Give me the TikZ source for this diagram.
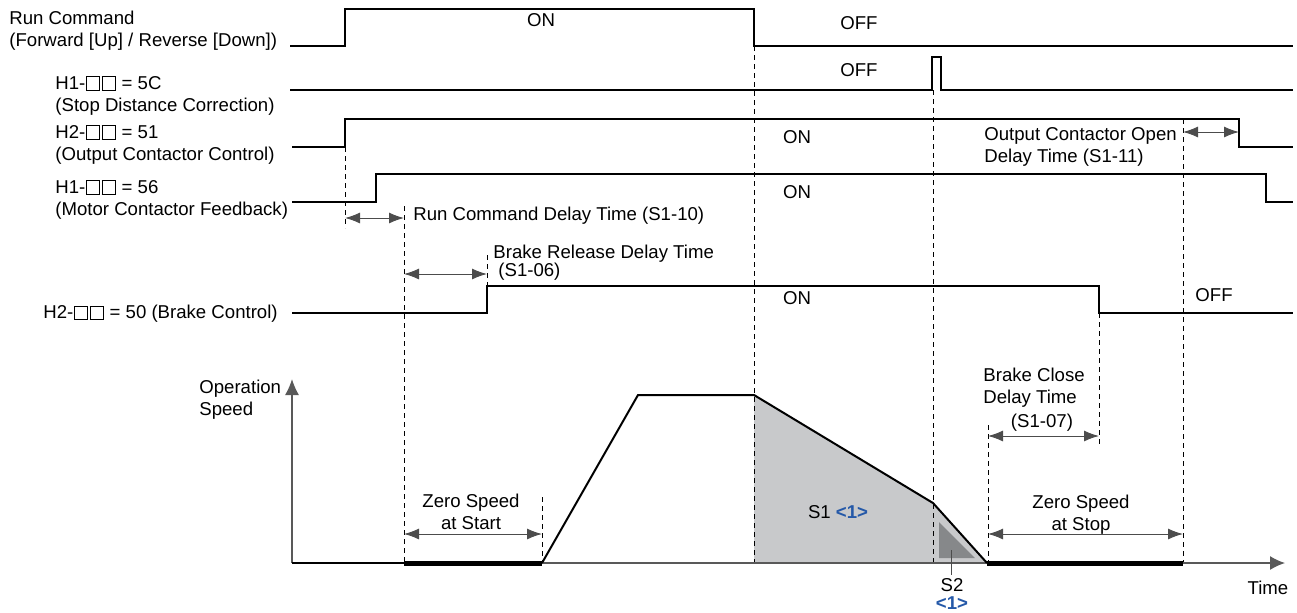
\documentclass[tikz,border=0pt]{standalone}
\usepackage{fontspec}
\setmainfont{Liberation Sans}
\usetikzlibrary{arrows.meta}
\definecolor{stopgray}{HTML}{C8C9CB}
\definecolor{slipgray}{HTML}{86888A}
\definecolor{noteblue}{HTML}{2458A8}
\newcommand{\blankbox}{{\setlength{\fboxsep}{0pt}\setlength{\fboxrule}{0.45pt}\kern0.04em\fbox{\rule{0pt}{0.66em}\rule{0.66em}{0pt}}\kern0.04em}}
\begin{document}
\begin{tikzpicture}[x=0.5pt,y=-0.5pt,
  sig/.style={line width=1pt},
  guide/.style={dash pattern=on 2.5pt off 2pt, line width=0.45pt},
  dim/.style={{Latex[length=7.5pt,width=5.5pt]}-{Latex[length=7.5pt,width=5.5pt]}, line width=0.5pt, draw=black!70, fill=black},
  txt/.style={inner sep=0pt, font=\fontsize{9.3}{11}\selectfont, align=left},
  note/.style={text=noteblue, font=\fontsize{9.3}{11}\selectfont\bfseries}]
  \useasboundingbox (0,0) rectangle (1297,612);

  % stop distance areas
  \fill[stopgray] (754,395) -- (933,503) -- (987,563) -- (754,563) -- cycle;
  \fill[slipgray] (939,522) -- (939,558) -- (975,558) -- cycle;

  % guide lines
  \draw[guide] (345,147) -- (345,228);
  \draw[guide] (404,206) -- (404,563);
  \draw[guide] (487,255) -- (487,286);
  \draw[guide] (542,497) -- (542,563);
  \draw[guide] (754,46) -- (754,563);
  \draw[guide] (933,90) -- (933,563);
  \draw[guide] (988,425) -- (988,563);
  \draw[guide] (1099,313) -- (1099,445);
  \draw[guide] (1183,119) -- (1183,563);

  % signals
  \draw[sig] (290,46) -- (345,46) -- (345,9) -- (754,9) -- (754,46) -- (1293,46);
  \draw[sig] (290,90) -- (932,90) -- (932,57) -- (941,57) -- (941,90) -- (1293,90);
  \draw[sig] (292,147) -- (345,147) -- (345,119) -- (1239,119) -- (1239,147) -- (1293,147);
  \draw[sig] (292,202) -- (376,202) -- (376,174) -- (1266,174) -- (1266,202) -- (1293,202);
  \draw[sig] (292,313) -- (487,313) -- (487,286) -- (1099,286) -- (1099,313) -- (1293,313);

  % signal names
  \node[txt, anchor=west] (runname) at (9,31) {Run Command\\(Forward [Up] / Reverse [Down])};
  \node[txt, anchor=west] (sdcname) at (55,96) {H1-\blankbox\blankbox{} = 5C\\(Stop Distance Correction)};
  \node[txt, anchor=west] (occname) at (55,145) {H2-\blankbox\blankbox{} = 51\\(Output Contactor Control)};
  \node[txt, anchor=west] (mcfname) at (55,200) {H1-\blankbox\blankbox{} = 56\\(Motor Contactor Feedback)};
  \node[txt, anchor=west] (bcname) at (43,314) {H2-\blankbox\blankbox{} = 50 (Brake Control)};

  % states
  \node[txt] (runon) at (541,20) {ON};
  \node[txt] (runoff) at (859,23) {OFF};
  \node[txt] (sdcoff) at (859,70) {OFF};
  \node[txt] (occon) at (797,137) {ON};
  \node[txt] (mcfon) at (797,192) {ON};
  \node[txt] (bcon) at (797,298) {ON};
  \node[txt] (bcoff) at (1214,295) {OFF};

  % delay times
  \draw[dim] (345,218) -- (404,218);
  \node[txt, anchor=west] (rcdelay) at (413,216) {Run Command Delay Time (S1-10)};
  \draw[dim] (404,274) -- (487,274);
  \node[txt, anchor=west] (brdelay) at (493,254) {Brake Release Delay Time};
  \node[txt, anchor=west] (brcode) at (498,272) {(S1-06)};
  \draw[dim] (1183,132) -- (1239,132);
  \node[txt, anchor=west] (ocdelay) at (984,147) {Output Contactor Open\\Delay Time (S1-11)};
  \draw[dim] (988,436) -- (1099,436);
  \node[txt, anchor=west] (bcdelay) at (983,388) {Brake Close\\Delay Time};
  \node[txt] (bccode) at (1042,423) {(S1-07)};

  % speed
  \draw[line width=0.65pt, draw=black!65, -{Latex[length=8pt,width=7pt]}] (292,563) -- (292,379);
  \draw[line width=0.65pt, draw=black!65, -{Latex[length=7.5pt,width=7pt]}] (292,563) -- (1285,563);
  \node[txt, anchor=west] (speedname) at (199,400) {Operation\\Speed};
  \node[txt] (timename) at (1268,588) {Time};
  \draw[sig] (292,563) -- (404,563);
  \draw[sig] (542,563) -- (638,395) -- (754,395) -- (933,503) -- (987,563);
  \draw[line width=2.5pt] (404,563) -- (542,563);
  \draw[line width=2.5pt] (987,563) -- (1183,563);

  % zero speed
  \draw[dim] (404,534) -- (542,534);
  \node[txt, align=center] (zsstart) at (471,512) {Zero Speed\\at Start};
  \draw[dim] (988,534) -- (1183,534);
  \node[txt, align=center] (zsstop) at (1081,515) {Zero Speed\\at Stop};

  % S1, S2
  \node[txt] (sone) at (838,512) {S1 {\color{noteblue}\bfseries <1>}};
  \draw[line width=0.5pt, draw=black!70] (951,550) -- (951,575);
  \node[txt] (stwo) at (952,585) {S2};
  \node[note, inner sep=0pt] (stwonote) at (952,603) {<1>};
\end{tikzpicture}
\end{document}
